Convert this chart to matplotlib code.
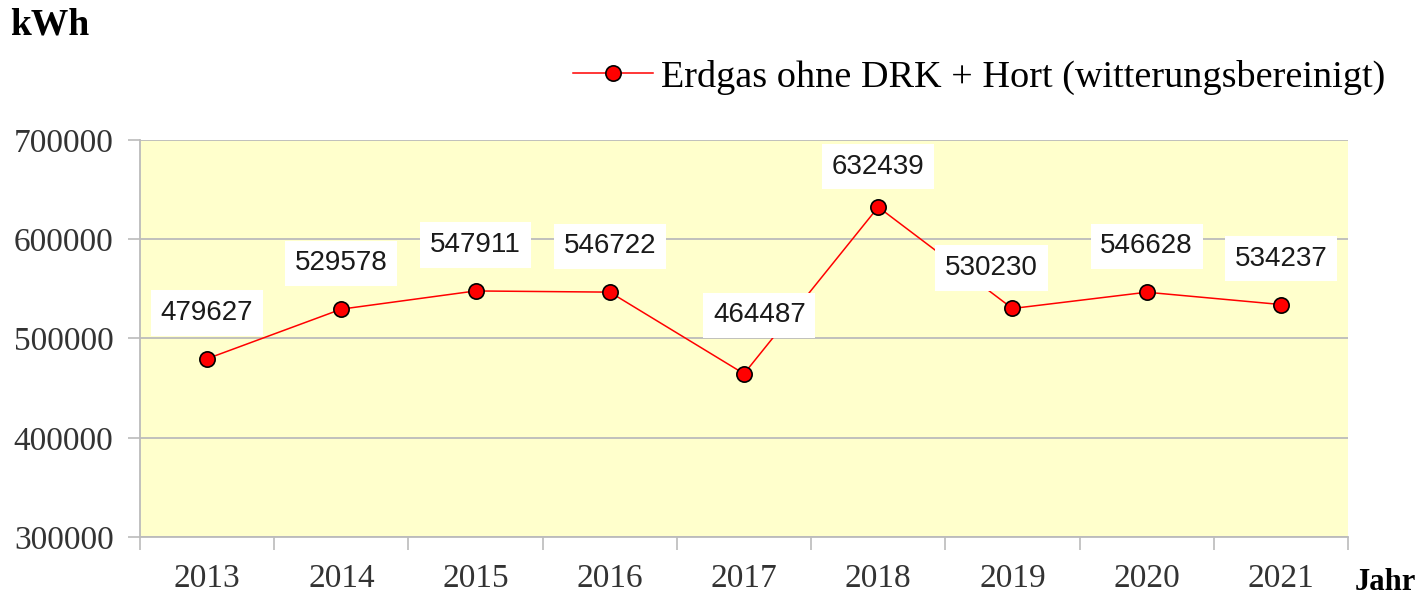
import numpy as np
from matplotlib import pyplot as plt

# -----------------------------------------------------------------------------

years  = ['2013', '2014', '2015', '2016', '2017', '2018', '2019', '2020', '2021']
values = [479627, 529578, 547911, 546722, 464487, 632439, 530230, 546628, 534237]
y_ticks = [300000, 400000, 500000, 600000, 700000]
series_name = 'Erdgas ohne DRK + Hort (witterungsbereinigt)'

serif = 'Liberation Serif'
sans  = 'Liberation Sans'

# -----------------------------------------------------------------------------

fig = plt.figure(figsize=(14.25, 5.98), dpi=100)
ax  = fig.add_axes([140/1425, 1-537/598, (1348-140)/1425, (537-140)/598])
ax.set_facecolor('#FFFFCC')

x = np.arange(len(years))
ax.plot(x, values, color='#FF0000', linewidth=1.1, marker='o', markersize=11,
        markerfacecolor='#FF0000', markeredgecolor='black', markeredgewidth=1.2,
        label=series_name, zorder=3)

# label shifts (pt) for a few crowded points
dx = {4: 11, 6: -15}
dy = {4: 42, 5: 29, 6: 29}
for i, v in enumerate(values):
	ax.annotate(str(v), (x[i], v), xytext=(dx.get(i, 0), dy.get(i, 33)), textcoords='offset points',
	            ha='center', va='center', fontsize=20, family=sans, color='#1a1a1a',
	            bbox=dict(boxstyle='square,pad=0.35', facecolor='white', edgecolor='none'), zorder=4)

ax.set_xlim(-0.5, len(years) - 0.5)
ax.set_ylim(300000, 700000)
ax.set_yticks(y_ticks)
ax.set_yticklabels([str(t) for t in y_ticks], family=serif, fontsize=24, color='#333333')
ax.set_xticks(x)
ax.set_xticklabels(years, family=serif, fontsize=24, color='#333333')
ax.set_xticks(np.arange(len(years) + 1) - 0.5, minor=True)
ax.tick_params(axis='x', which='major', length=0, pad=19)
ax.tick_params(axis='x', which='minor', length=9, color='#BBBBBB', width=1.2)
ax.tick_params(axis='y', length=9, color='#BBBBBB', width=1.2, pad=10)

ax.grid(axis='y', color='#BBBBBB', linewidth=1.3)
ax.set_axisbelow(True)
for s in ['top', 'right']:
	ax.spines[s].set_visible(False)
for s in ['left', 'bottom']:
	ax.spines[s].set_color('#BBBBBB')
	ax.spines[s].set_linewidth(1.3)

fig.text(10/1425, 1-25/598, 'kWh', family=serif, fontweight='bold', fontsize=27, va='center', ha='left')
fig.text(1355/1425, 1-583/598, 'Jahr', family=serif, fontweight='bold', fontsize=22, va='center', ha='left')

leg = fig.legend(loc='center right', bbox_to_anchor=(1385/1425, 1-77/598), frameon=False,
                 prop={'family': serif, 'size': 27.5}, handlelength=2.1, handletextpad=0.2,
                 borderaxespad=0, borderpad=0)

fig.savefig('out.png', dpi=100)
